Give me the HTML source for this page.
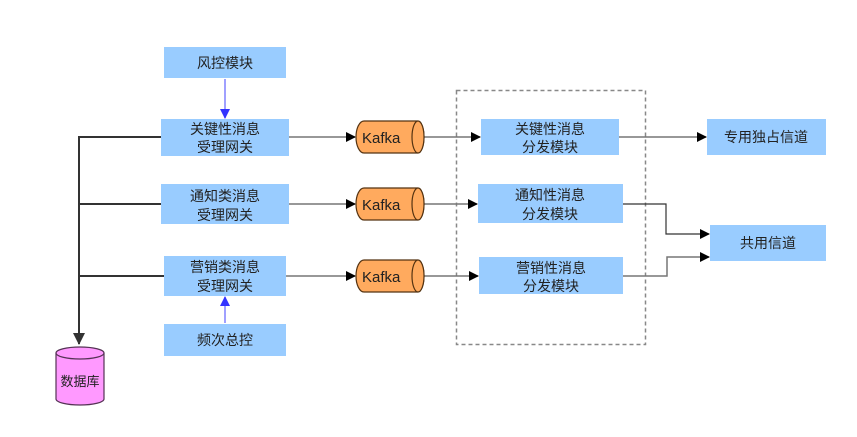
<!DOCTYPE html>
<html><head><meta charset="utf-8"><style>
html,body{margin:0;padding:0;background:#fff;}
svg{display:block;}
text{font-family:"Liberation Sans","Noto Sans CJK SC",sans-serif;font-size:14px;fill:#222;}
</style></head><body>
<svg width="857" height="437" viewBox="0 0 857 437" xmlns="http://www.w3.org/2000/svg">
<defs>
<marker id="ab" markerWidth="10" markerHeight="10" refX="9" refY="5" orient="auto" markerUnits="userSpaceOnUse"><path d="M0,0 L10,5 L0,10 Z" fill="#000"/></marker>
<marker id="ab2" markerWidth="12" markerHeight="12" refX="11" refY="6" orient="auto" markerUnits="userSpaceOnUse"><path d="M0,0 L12,6 L0,12 Z" fill="#333"/></marker>
<marker id="abl" markerWidth="10" markerHeight="10" refX="9" refY="5" orient="auto" markerUnits="userSpaceOnUse"><path d="M0,0 L10,5 L0,10 Z" fill="#3333ff"/></marker>
</defs>
<!-- dashed box -->
<rect x="456.5" y="90.5" width="189" height="254" fill="none" stroke="#888" stroke-width="1.5" stroke-dasharray="4,3"/>
<!-- left bus -->
<path d="M161,137 H79 V344" fill="none" stroke="#333" stroke-width="2" marker-end="url(#ab2)"/>
<line x1="79" y1="204" x2="161" y2="204" stroke="#333" stroke-width="2"/>
<line x1="79" y1="276" x2="164" y2="276" stroke="#333" stroke-width="2"/>
<!-- blue arrows -->
<line x1="225" y1="79" x2="225" y2="118" stroke="#8080ff" stroke-width="1.5" marker-end="url(#abl)"/>
<line x1="225" y1="323" x2="225" y2="297" stroke="#8080ff" stroke-width="1.5" marker-end="url(#abl)"/>
<!-- gateway to kafka -->
<line x1="289" y1="137" x2="355" y2="137" stroke="#777" stroke-width="1.5" marker-end="url(#ab)"/>
<line x1="289" y1="204" x2="355" y2="204" stroke="#777" stroke-width="1.5" marker-end="url(#ab)"/>
<line x1="286" y1="276" x2="355" y2="276" stroke="#777" stroke-width="1.5" marker-end="url(#ab)"/>
<!-- kafka to dispatch -->
<line x1="424" y1="137" x2="480" y2="137" stroke="#777" stroke-width="1.5" marker-end="url(#ab)"/>
<line x1="424" y1="204" x2="477" y2="204" stroke="#777" stroke-width="1.5" marker-end="url(#ab)"/>
<line x1="424" y1="276" x2="478" y2="276" stroke="#777" stroke-width="1.5" marker-end="url(#ab)"/>
<!-- dispatch to channels -->
<line x1="619" y1="137" x2="706" y2="137" stroke="#777" stroke-width="1.5" marker-end="url(#ab)"/>
<path d="M623,204 H666 V234 H709" fill="none" stroke="#333" stroke-width="1.2" marker-end="url(#ab)"/>
<path d="M623,276 H667 V257 H709" fill="none" stroke="#777" stroke-width="1.5" marker-end="url(#ab)"/>
<!-- boxes -->
<g fill="#99ccff">
<rect x="164" y="47" width="122" height="31"/>
<rect x="161" y="119" width="128" height="37"/>
<rect x="161" y="184" width="128" height="40"/>
<rect x="164" y="256" width="122" height="40"/>
<rect x="164" y="324" width="122" height="32"/>
<rect x="481" y="119" width="138" height="36"/>
<rect x="478" y="184" width="145" height="39"/>
<rect x="479" y="257" width="144" height="37"/>
<rect x="707" y="119" width="119" height="36"/>
<rect x="710" y="225" width="116" height="36"/>
</g>
<g text-anchor="middle">
<text x="225" y="68">风控模块</text>
<text x="225" y="134">关键性消息</text><text x="225" y="152">受理网关</text>
<text x="225" y="201">通知类消息</text><text x="225" y="220">受理网关</text>
<text x="225" y="272">营销类消息</text><text x="225" y="291">受理网关</text>
<text x="225" y="345">频次总控</text>
<text x="550" y="134">关键性消息</text><text x="550" y="152">分发模块</text>
<text x="550" y="200">通知性消息</text><text x="550" y="219">分发模块</text>
<text x="551" y="273">营销性消息</text><text x="551" y="291">分发模块</text>
<text x="766" y="142">专用独占信道</text>
<text x="768" y="248">共用信道</text>
</g>
<!-- kafka cylinders -->
<g stroke="#553311" stroke-width="1.2" fill="#ffaa5e">
<path d="M364,121 H418 A6,16 0 0 1 418,153 H364 A8,16 0 0 1 364,121 Z"/>
<ellipse cx="418" cy="137" rx="6" ry="16"/>
<path d="M364,188 H418 A6,16 0 0 1 418,220 H364 A8,16 0 0 1 364,188 Z"/>
<ellipse cx="418" cy="204" rx="6" ry="16"/>
<path d="M364,260 H418 A6,16 0 0 1 418,292 H364 A8,16 0 0 1 364,260 Z"/>
<ellipse cx="418" cy="276" rx="6" ry="16"/>
</g>
<g font-size="15"><text x="362" y="143" style="font-size:15px">Kafka</text>
<text x="362" y="210" style="font-size:15px">Kafka</text>
<text x="362" y="282" style="font-size:15px">Kafka</text></g>
<!-- database -->
<path d="M56,353 V399 A24,6 0 0 0 104,399 V353" fill="#ff99ff" stroke="#553355" stroke-width="1.2"/>
<ellipse cx="80" cy="353" rx="24" ry="6" fill="#ff99ff" stroke="#553355" stroke-width="1.2"/>
<text x="80" y="386" text-anchor="middle" style="font-size:13px">数据库</text>
</svg>
</body></html>
